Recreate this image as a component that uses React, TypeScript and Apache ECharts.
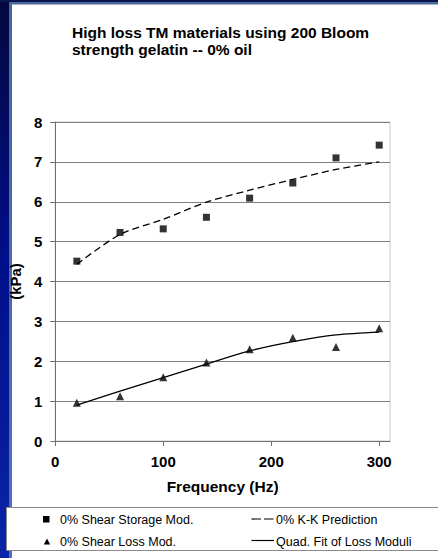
import React, { useEffect, useRef } from "react";
import * as echarts from "echarts";

const titleLines = ["High loss TM materials using 200 Bloom", "strength gelatin -- 0% oil"];
const freq = [20, 60, 100, 140, 180, 220, 260, 300];
const storageMod = [4.51, 5.23, 5.32, 5.61, 6.09, 6.47, 7.1, 7.42];
const lossMod = [0.96, 1.12, 1.6, 1.97, 2.3, 2.59, 2.36, 2.83];
const kkPrediction = [4.43, 5.18, 5.56, 5.99, 6.29, 6.56, 6.81, 7.0];
const quadFit = [0.9, 1.25, 1.59, 1.93, 2.26, 2.49, 2.66, 2.73];
const xTicks = [0, 100, 200, 300];
const legendNames = [
  "0% Shear Storage Mod.",
  "0% Shear Loss Mod.",
  "0% K-K Prediction",
  "Quad. Fit of Loss Moduli",
];

const FONT = "'Liberation Sans', Arial, sans-serif";

export default function App() {
  const ref = useRef<HTMLDivElement>(null);
  useEffect(() => {
    if (!ref.current) return;
    const chart = echarts.init(ref.current, null, { renderer: "svg" });
    const pair = (ys: number[]) => freq.map((x, i) => [x, ys[i]]);
    const legendFont = { fontFamily: FONT, fontSize: 12.5, fill: "#000" };
    chart.setOption({
      animation: false,
      backgroundColor: "#ffffff",
      textStyle: { fontFamily: FONT },
      title: {
        text: titleLines.join("\n"),
        left: 72,
        top: 24,
        padding: 0,
        textStyle: {
          fontFamily: FONT,
          fontSize: 15.5,
          fontWeight: "bold",
          color: "#000",
          lineHeight: 17,
        },
      },
      grid: {
        left: 52,
        top: 122,
        right: 48,
        bottom: 117,
        show: true,
        borderColor: "#c8c8c8",
        borderWidth: 1,
        backgroundColor: "transparent",
      },
      xAxis: {
        type: "value",
        min: 0,
        max: 310,
        interval: 100,
        name: "Frequency (Hz)",
        nameLocation: "middle",
        nameGap: 37,
        nameTextStyle: { fontFamily: FONT, fontSize: 15.5, fontWeight: "bold", color: "#000" },
        axisLine: { show: true, lineStyle: { color: "#707070", width: 1 } },
        axisTick: { show: true, length: 5, lineStyle: { color: "#707070" }, customValues: xTicks },
        axisLabel: {
          customValues: xTicks,
          margin: 13,
          fontFamily: FONT,
          fontSize: 15,
          fontWeight: "bold",
          color: "#000",
        },
        splitLine: { show: false },
      },
      yAxis: {
        type: "value",
        min: 0,
        max: 8,
        interval: 1,
        name: "(kPa)",
        nameLocation: "middle",
        nameGap: 27,
        nameTextStyle: { fontFamily: FONT, fontSize: 15, fontWeight: "bold", color: "#000" },
        axisLine: { show: true, lineStyle: { color: "#707070", width: 1 } },
        axisTick: { show: true, length: 5, lineStyle: { color: "#707070" } },
        axisLabel: { margin: 13, fontFamily: FONT, fontSize: 15, fontWeight: "bold", color: "#000" },
        splitLine: { show: true, lineStyle: { color: "#808080", width: 1 } },
      },
      series: [
        {
          name: legendNames[0],
          type: "scatter",
          symbol: "rect",
          symbolSize: 7,
          itemStyle: { color: "#000" },
          data: pair(storageMod),
          z: 3,
        },
        {
          name: legendNames[1],
          type: "scatter",
          symbol: "triangle",
          symbolSize: 8,
          itemStyle: { color: "#000" },
          data: pair(lossMod),
          z: 3,
        },
        {
          name: legendNames[2],
          type: "line",
          smooth: 0.3,
          showSymbol: false,
          symbol: "none",
          lineStyle: { color: "#000", width: 1.3, type: [7, 4] },
          data: pair(kkPrediction),
          z: 2,
        },
        {
          name: legendNames[3],
          type: "line",
          smooth: 0.3,
          showSymbol: false,
          symbol: "none",
          lineStyle: { color: "#000", width: 1.3 },
          data: pair(quadFit),
          z: 2,
        },
      ],
      graphic: [
        {
          type: "rect",
          z: -10,
          shape: { x: 0, y: 0, width: 9, height: 558 },
          style: {
            fill: new echarts.graphic.LinearGradient(0, 0, 0, 1, [
              { offset: 0, color: "#03093e" },
              { offset: 0.45, color: "#000e88" },
              { offset: 1, color: "#0a24a8" },
            ]),
          },
          silent: true,
        },
        {
          type: "rect",
          z: -10,
          shape: { x: 9, y: 0, width: 3, height: 558 },
          style: {
            fill: new echarts.graphic.LinearGradient(0, 0, 0, 1, [
              { offset: 0, color: "#4a6898" },
              { offset: 1, color: "#4f70b8" },
            ]),
          },
          silent: true,
        },
        {
          type: "rect",
          z: -10,
          shape: { x: 0, y: 0, width: 438, height: 2 },
          style: { fill: "#0a1550" },
          silent: true,
        },
        {
          type: "rect",
          z: -10,
          shape: { x: 9, y: 2, width: 429, height: 2.5 },
          style: { fill: "#4a6898" },
          silent: true,
        },
        {
          type: "group",
          children: [
            {
              type: "rect",
              shape: { x: 6.5, y: 507.5, width: 440, height: 43 },
              style: { fill: "#fff", stroke: "#8a8a8a", lineWidth: 1 },
            },
            {
              type: "rect",
              shape: { x: 43, y: 516, width: 6.5, height: 6.5 },
              style: { fill: "#000" },
            },
            {
              type: "polygon",
              shape: { points: [[47, 538.5], [43.8, 544.5], [50.2, 544.5]] },
              style: { fill: "#000" },
            },
            {
              type: "line",
              shape: { x1: 251.5, y1: 519, x2: 273.5, y2: 519 },
              style: { stroke: "#000", lineWidth: 1.2, lineDash: [9.5, 3] },
            },
            {
              type: "line",
              shape: { x1: 251.5, y1: 540.5, x2: 274, y2: 540.5 },
              style: { stroke: "#000", lineWidth: 1.2 },
            },
            {
              type: "text",
              style: { ...legendFont, x: 60, y: 519.5, text: legendNames[0], verticalAlign: "middle" },
            },
            {
              type: "text",
              style: { ...legendFont, x: 60, y: 541.5, text: legendNames[1], verticalAlign: "middle" },
            },
            {
              type: "text",
              style: { ...legendFont, x: 276, y: 519.5, text: legendNames[2], verticalAlign: "middle" },
            },
            {
              type: "text",
              style: { ...legendFont, x: 276, y: 541.5, text: legendNames[3], verticalAlign: "middle" },
            },
          ],
        },
      ],
    });
    return () => chart.dispose();
  }, []);
  return (
    <div
      ref={ref}
      style={{ position: "fixed", left: 0, top: 0, width: 438, height: 558 }}
    />
  );
}
